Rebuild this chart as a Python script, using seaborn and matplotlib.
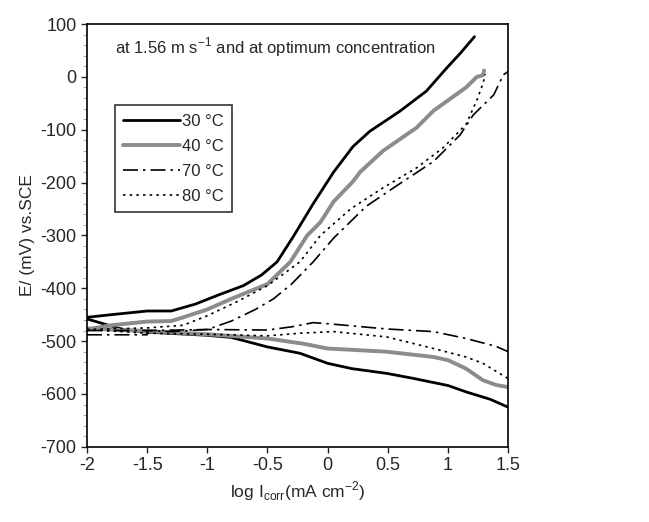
import numpy as np
import pandas as pd
import seaborn as sns
import matplotlib.pyplot as plt
from matplotlib.lines import Line2D
from matplotlib.ticker import MultipleLocator

sns.set_style('ticks')
plt.rcParams['font.family'] = ['Liberation Sans', 'DejaVu Sans']
plt.rcParams['axes.unicode_minus'] = False

# Tafel curves (log I in mA cm-2, E in mV vs SCE)
# 30 C
x30_an = [-2.0, -1.8, -1.5, -1.3, -1.1, -0.9, -0.7, -0.55, -0.42, -0.285, -0.12, 0.05, 0.21, 0.35, 0.6, 0.82, 0.99, 1.1, 1.22]
y30_an = [-455, -450, -443, -443, -430, -412, -395, -375, -350, -302, -240, -180, -132, -103, -65, -27, 17, 44, 76]
x30_ca = [-2.0, -1.85, -1.7, -1.5, -1.0, -0.8, -0.5, -0.23, 0.0, 0.2, 0.49, 0.7, 1.0, 1.15, 1.35, 1.5]
y30_ca = [-458, -468, -478, -483, -489, -493, -511, -523, -542, -552, -561, -570, -584, -596, -610, -625]

# 40 C
x40_an = [-2.0, -1.8, -1.5, -1.3, -1.2, -1.0, -0.8, -0.5, -0.31, -0.17, -0.06, 0.05, 0.1, 0.21, 0.27, 0.46, 0.74, 0.88, 1.15, 1.24, 1.29, 1.3]
y40_an = [-478, -470, -463, -462, -455, -440, -420, -392, -350, -300, -275, -236, -224, -198, -180, -140, -96, -64, -20, 0, 3, 12]
x40_ca = [-2.0, -1.5, -1.0, -0.5, -0.2, 0.0, 0.49, 0.88, 1.0, 1.15, 1.29, 1.4, 1.5]
y40_ca = [-476, -481, -487, -495, -505, -514, -520, -530, -536, -552, -574, -583, -587]

# 70 C
x70_an = [-2.0, -1.5, -1.5, -1.3, -1.0, -0.8, -0.6, -0.45, -0.3, -0.12, 0.05, 0.32, 0.6, 0.88, 1.1, 1.21, 1.38, 1.46, 1.5]
y70_an = [-488, -488, -480, -482, -478, -462, -440, -420, -392, -350, -305, -245, -202, -160, -110, -72, -34, 4, 10]
x70_ca = [-2.0, -1.5, -1.0, -0.5, -0.3, -0.12, 0.0, 0.49, 0.88, 1.15, 1.4, 1.5]
y70_ca = [-480, -480, -478, -479, -473, -465, -467, -477, -482, -495, -510, -520]

# 80 C
x80_an = [-2.0, -1.5, -1.2, -1.0, -0.75, -0.5, -0.23, -0.06, 0.19, 0.46, 0.74, 0.96, 1.15, 1.24, 1.29, 1.31]
y80_an = [-478, -475, -470, -452, -425, -395, -350, -300, -250, -210, -172, -134, -90, -44, -13, 5]
x80_ca = [-2.0, -1.5, -1.0, -0.5, -0.23, 0.05, 0.49, 0.88, 1.15, 1.29, 1.5]
y80_ca = [-478, -485, -487, -490, -485, -482, -492, -514, -530, -542, -571]

labels = ['30 °C', '40 °C', '70 °C', '80 °C']
curves = [
    (x30_an, y30_an, x30_ca, y30_ca),
    (x40_an, y40_an, x40_ca, y40_ca),
    (x70_an, y70_an, x70_ca, y70_ca),
    (x80_an, y80_an, x80_ca, y80_ca),
]
colors = ['black', '#8c8c8c', 'black', 'black']
widths = [2.0, 2.8, 1.2, 1.2]
dashes = [None, None, (9, 3, 1.5, 3), (1.5, 2.5)]

fig = plt.figure(figsize=(6.49, 5.22), dpi=100)
ax = fig.add_axes([0.134, 0.144, 0.649, 0.81])

handles = []
for lab, (xa, ya, xc, yc), col, lw, ds in zip(labels, curves, colors, widths, dashes):
    for xs, ys in [(xa, ya), (xc, yc)]:
        d = pd.DataFrame({'logI': xs, 'E': ys})
        sns.lineplot(data=d, x='logI', y='E', ax=ax, color=col, lw=lw,
                     sort=False, estimator=None)
        ln = ax.get_lines()[-1]
        if ds is not None:
            ln.set_dashes(ds)
    h = Line2D([], [], color=col, lw=lw)
    if ds is not None:
        h.set_dashes(ds)
    handles.append(h)

ax.set_xlim(-2, 1.5)
ax.set_ylim(-700, 100)
ax.set_xticks(np.arange(-2, 1.51, 0.5))
ax.set_xticklabels(['-2', '-1.5', '-1', '-0.5', '0', '0.5', '1', '1.5'])
ax.set_yticks(np.arange(-700, 101, 100))
ax.yaxis.set_minor_locator(MultipleLocator(20))
ax.tick_params(axis='both', which='major', labelsize=13, direction='out', length=4, width=1)
ax.tick_params(axis='y', which='minor', direction='out', length=3, color='#999999')
for s in ax.spines.values():
    s.set_visible(True)
    s.set_linewidth(1.2)
    s.set_color('black')

ax.set_xlabel('log I$_{\\mathregular{corr}}$(mA cm$^{\\mathregular{-2}}$)', fontsize=12.5)
ax.set_ylabel('E/ (mV) vs.SCE', fontsize=12.5)

ax.text(-1.77, 56, 'at 1.56 m s$^{\\mathregular{-1}}$ and at optimum concentration',
        fontsize=12, va='center', ha='left')

leg = ax.legend(handles, labels, loc='upper left', bbox_to_anchor=(0.066, 0.808),
                fontsize=12, handlelength=3.4, handletextpad=0.15, labelspacing=0.6,
                frameon=True, fancybox=False, borderpad=0.5, borderaxespad=0)
leg.get_frame().set_edgecolor('black')
leg.get_frame().set_linewidth(1.2)

fig.savefig('out.png', dpi=100)
